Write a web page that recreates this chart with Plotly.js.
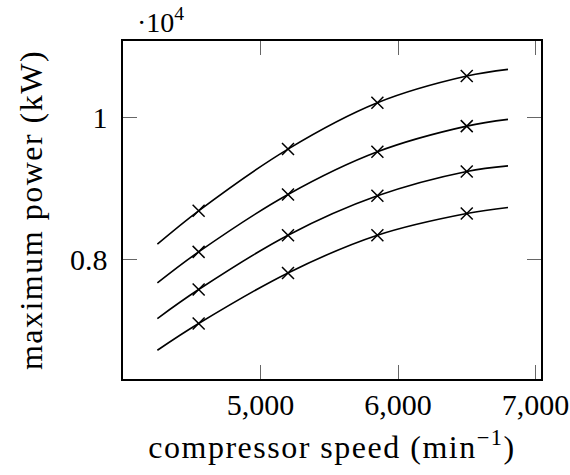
<!DOCTYPE html>
<html>
<head>
<meta charset="utf-8">
<script src="https://cdn.plot.ly/plotly-3.0.1.min.js"></script>
<style>
html,body{margin:0;padding:0;background:#fff;}
#chart{width:570px;height:475px;}
text.xtitle, text.ytitle {letter-spacing: 1.5px;}
</style>
</head>
<body>
<div id="chart"></div>
<script>
// compressor speed (min^-1)
const lineSpeed = [4250, 4550, 5200, 5850, 6500, 6800];
const markerSpeed = [4550, 5200, 5850, 6500];
// maximum power (kW), four curves, values along lineSpeed
const powerA = [8215, 8685, 9554, 10206, 10582, 10676];
const powerB = [7670, 8107, 8915, 9516, 9877, 9972];
const powerC = [7169, 7577, 8342, 8896, 9239, 9318];
const powerD = [6723, 7099, 7811, 8342, 8648, 8732];
const yTickVals = [8000, 10000];
const yTickText = ['0.8', '1'];
const xTickVals = [5000, 6000, 7000];

const series = [powerA, powerB, powerC, powerD];
const traces = [];
series.forEach(s => {
  traces.push({x: lineSpeed, y: s, mode: 'lines', line: {color: '#000', width: 1.6, shape: 'spline', smoothing: 1}, hoverinfo: 'skip'});
  traces.push({x: markerSpeed, y: s.slice(1, 5), mode: 'markers',
    marker: {symbol: 'x-thin', size: 12, line: {color: '#000', width: 1.5}}, hoverinfo: 'skip'});
});

const fam = 'Liberation Serif, DejaVu Serif, serif';
const tickFont = {family: fam, size: 30, color: '#000'};
const titleFont = {family: fam, size: 32, color: '#000'};
const layout = {
  width: 570, height: 475,
  margin: {l: 123, r: 29, t: 41, b: 96},
  paper_bgcolor: '#fff', plot_bgcolor: '#fff',
  showlegend: false,
  font: tickFont,
  xaxis: {
    range: [4000, 7040], tickvals: xTickVals, tickformat: ',d',
    ticks: 'inside', ticklen: 14, tickcolor: '#666', tickwidth: 1,
    showline: true, linecolor: '#000', linewidth: 1.6, mirror: 'allticks',
    showgrid: false, zeroline: false, tickfont: tickFont, ticklabelstandoff: -2,
    title: {text: 'compressor speed (min<sup>−1</sup>)', font: titleFont, standoff: 16}
  },
  yaxis: {
    range: [6318, 11075], tickvals: yTickVals, ticktext: yTickText,
    ticks: 'inside', ticklen: 14, tickcolor: '#666', tickwidth: 1,
    showline: true, linecolor: '#000', linewidth: 1.6, mirror: 'allticks',
    showgrid: false, zeroline: false, tickfont: tickFont, ticklabelstandoff: 8,
    title: {text: 'maximum power (kW)', font: titleFont, standoff: 18}
  },
  annotations: [{
    xref: 'paper', yref: 'paper', x: 0.028, y: 1, xanchor: 'left', yanchor: 'bottom', yshift: 1,
    text: '·10<sup>4</sup>', showarrow: false, font: {family: fam, size: 28, color: '#000'}
  }]
};
Plotly.newPlot('chart', traces, layout, {displayModeBar: false, staticPlot: true});
</script>
</body>
</html>
